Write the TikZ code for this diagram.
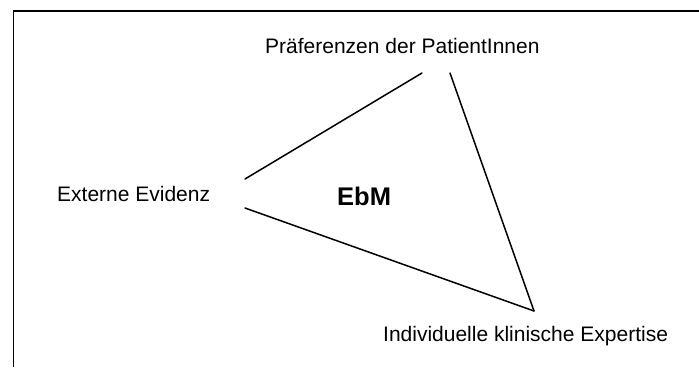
\documentclass[tikz,border=0pt]{standalone}
\usepackage{fontspec}
\setmainfont{Liberation Sans}
\begin{document}
\begin{tikzpicture}[x=1pt,y=-1pt,
  lbl/.style={inner sep=0pt, anchor=base west, font=\fontsize{21}{25}\selectfont},
  title/.style={inner sep=0pt, anchor=base west, font=\fontsize{25.5}{30}\selectfont\bfseries},
  edge/.style={line width=1.5pt, line cap=round},
  frame/.style={line width=1.8pt}]
\useasboundingbox (0,0) rectangle (699,367);
% frame (top and left edges)
\coordinate (fbl) at (13.5,367);
\coordinate (ftl) at (13.5,11);
\coordinate (ftr) at (699,11);
\draw[frame] (fbl) -- (ftl) -- (ftr);
% labels
\node[lbl] (pref) at (265,53.5) {Präferenzen der PatientInnen};
\node[lbl] (ext) at (57,201.7) {Externe Evidenz};
\node[lbl] (ind) at (383,341.7) {Individuelle klinische Expertise};
\node[title] (ebm) at (337,205.7) {EbM};
% triangle sides
\coordinate (a1) at (245,179);
\coordinate (a2) at (422,73);
\coordinate (b1) at (450,73);
\coordinate (b2) at (534,311);
\coordinate (c1) at (245,208);
\draw[edge] (a1) -- (a2);
\draw[edge] (b1) -- (b2);
\draw[edge] (c1) -- (b2);
\end{tikzpicture}
\end{document}
